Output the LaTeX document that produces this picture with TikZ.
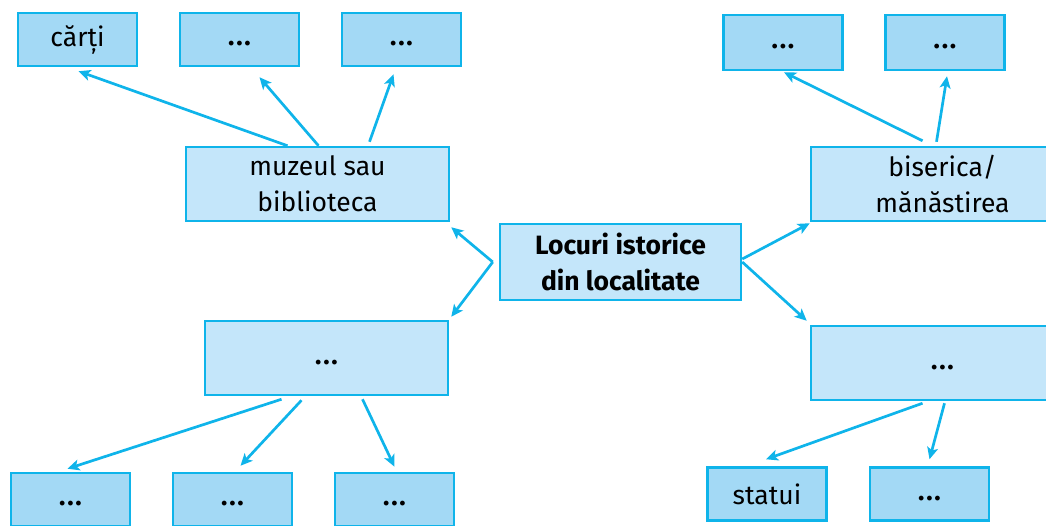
\documentclass[tikz,border=0pt]{standalone}
\usepackage{fontspec}
\setmainfont{Fira Sans}
\usetikzlibrary{arrows.meta}

\definecolor{edge}{HTML}{0FB4EA}
\definecolor{midfill}{HTML}{C4E6FA}
\definecolor{leaffill}{HTML}{A3D9F5}

\newcommand{\more}{\vphantom{Ag}\textbf{.\kern1.8pt.\kern1.8pt.}}

\begin{document}
\begin{tikzpicture}[x=1pt, y=-1pt, >={Stealth[length=12pt, width=11pt, inset=3pt]},
  hub/.style={draw=edge, fill=midfill, line width=2.5pt, minimum width=241pt, minimum height=76pt, align=center, inner sep=0pt, font=\fontsize{26.5}{36}\selectfont\bfseries},
  mid/.style={draw=edge, fill=midfill, line width=2.5pt, minimum width=263pt, minimum height=74pt, align=center, inner sep=0pt, font=\fontsize{26.5}{36}\selectfont},
  leaf/.style={draw=edge, fill=leaffill, line width=2.5pt, minimum width=119pt, minimum height=53pt, align=center, inner sep=0pt, font=\fontsize{26.5}{36}\selectfont},
  arr/.style={->, draw=edge, line width=2.7pt}]

\useasboundingbox (0,0) rectangle (1046,525);
\clip (0,0) rectangle (1046,525);

% =================================================================================
% the centre
% =================================================================================
\node[hub] (cen) at (620.5,262) {Locuri istorice\\din localitate};

% =================================================================================
% upper left: the museum and what it holds
% =================================================================================
\node[mid]  (lib)  at (317.5,184) {muzeul sau\\biblioteca};
\node[leaf] (lib1) at (77.5,39.5)  {cărți};
\node[leaf] (lib2) at (239.5,39.5) {\more};
\node[leaf] (lib3) at (401.5,39.5) {\more};

% =================================================================================
% lower left
% =================================================================================
\node[mid, minimum width=243pt] (oth)  at (326.5,358) {\more};
\node[leaf] (oth1) at (70.5,499.5)  {\more};
\node[leaf] (oth2) at (232.5,499.5) {\more};
\node[leaf] (oth3) at (394.5,499.5) {\more};

% =================================================================================
% upper right: the church
% =================================================================================
\node[mid]  (bis)  at (942.5,184) {biserica/\\mănăstirea};
\node[leaf, minimum height=55pt] (bis1) at (783,42.5) {\more};
\node[leaf, minimum height=55pt] (bis2) at (945,42.5) {\more};

% =================================================================================
% lower right
% =================================================================================
\node[mid]  (mon)  at (942.5,363) {\more};
\node[leaf] (mon1) at (767,494)   {statui};
\node[leaf] (mon2) at (929.5,494) {\more};

% =================================================================================
% the arrows
% =================================================================================
\draw[arr] ([xshift=-6pt]cen.west) -- ([xshift=1pt, yshift=-5pt]lib.south east);
\draw[arr] ([xshift=-6pt]cen.west) -- ([xshift=2pt, yshift=3pt]oth.north east);
\draw[arr] ([yshift=3pt]cen.east) -- ([yshift=-1pt]bis.south west);
\draw[arr] (cen.east) -- ([xshift=-3pt, yshift=4pt]mon.north west);

\draw[arr] ([xshift=-30pt]lib.north) -- ([xshift=1pt, yshift=-4pt]lib1.south);
\draw[arr] ([xshift=1pt]lib.north) -- ([xshift=20pt, yshift=-10pt]lib2.south);
\draw[arr] ([xshift=52pt, yshift=4pt]lib.north) -- ([xshift=-8pt, yshift=-7pt]lib3.south);

\draw[arr] ([xshift=-20pt, yshift=5pt]bis.north) -- ([xshift=1pt, yshift=-1pt]bis1.south);
\draw[arr] ([xshift=-6pt, yshift=4pt]bis.north) -- ([xshift=2pt, yshift=-5pt]bis2.south);

\draw[arr] ([xshift=-45pt, yshift=-3pt]oth.south) -- ([xshift=-3pt, yshift=3pt]oth1.north);
\draw[arr] ([xshift=-25pt, yshift=-4pt]oth.south) -- ([xshift=8pt, yshift=6pt]oth2.north);
\draw[arr] ([xshift=36pt, yshift=-3pt]oth.south) -- ([xshift=0pt, yshift=5pt]oth3.north);

\draw[arr] ([xshift=-20pt, yshift=-2pt]mon.south) -- ([xshift=-1pt, yshift=7pt]mon1.north);
\draw[arr] ([xshift=2pt, yshift=-2pt]mon.south) -- ([xshift=0pt, yshift=7pt]mon2.north);

\end{tikzpicture}
\end{document}
